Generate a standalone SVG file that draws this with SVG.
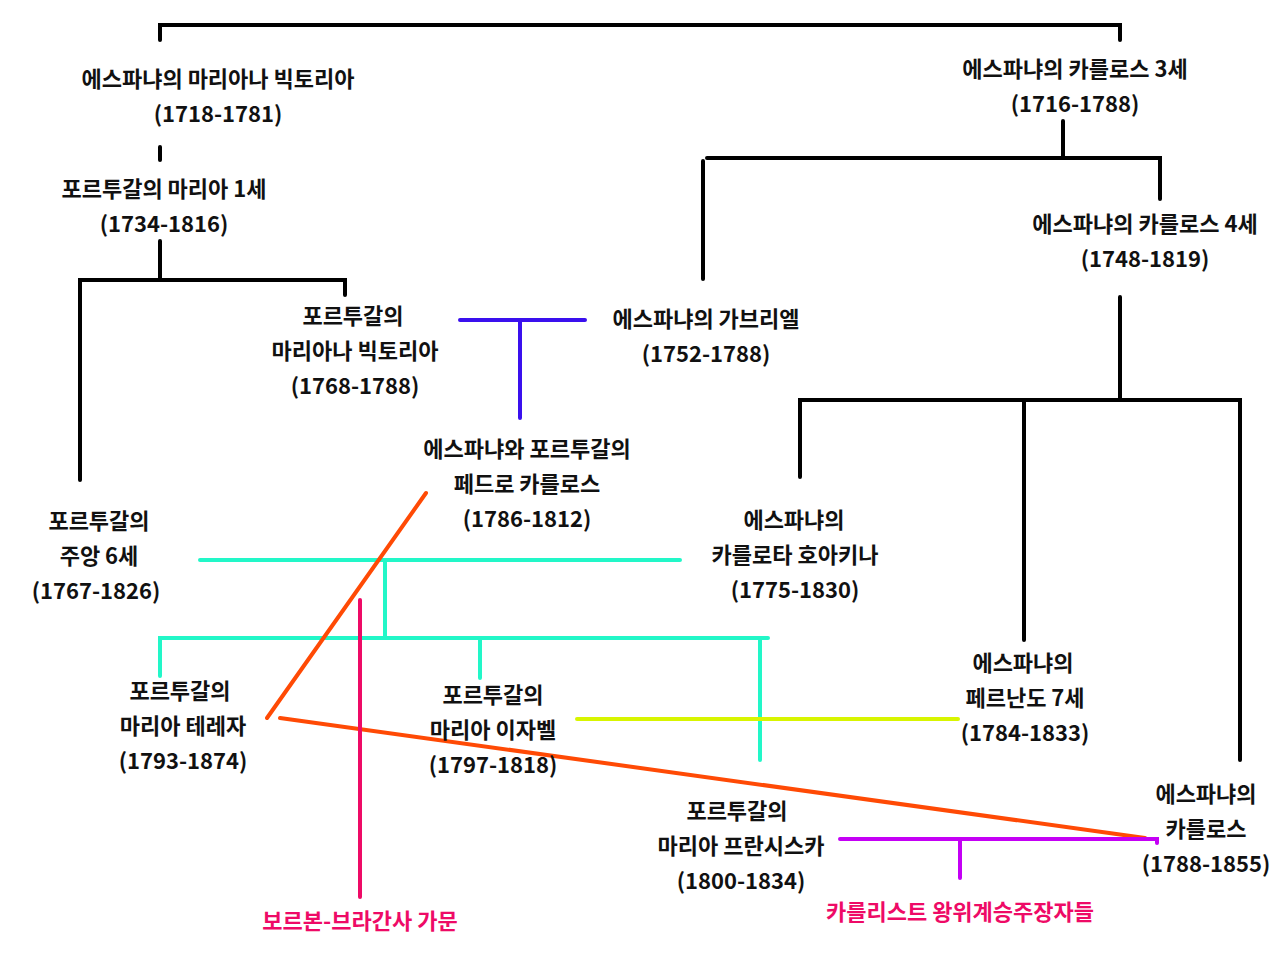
<svg xmlns="http://www.w3.org/2000/svg" width="1280" height="960" viewBox="0 0 1280 960">
<style>
text{font-family:"Noto Sans CJK KR","Noto Sans",sans-serif;font-weight:bold;font-size:22px;fill:#111;text-anchor:middle;dominant-baseline:central}
text.red{fill:#ee0a66}
.k{stroke:#000;stroke-width:4;fill:none;stroke-linecap:round}
.c{stroke:#22f7c8;stroke-width:4;fill:none;stroke-linecap:round}
.b{stroke:#3a10ee;stroke-width:4;fill:none;stroke-linecap:round}
.o{stroke:#ff4a05;stroke-width:4;fill:none;stroke-linecap:round}
.p{stroke:#ee0a66;stroke-width:4;fill:none;stroke-linecap:round}
.y{stroke:#d8f500;stroke-width:4;fill:none;stroke-linecap:round}
.v{stroke:#c400f5;stroke-width:4;fill:none;stroke-linecap:round}
</style>
<rect width="1280" height="960" fill="#fff"/>
<g id="connectors">
<path class="k" d="M160 40V25H1120V40"/>
<path class="k" d="M160 147V160"/>
<path class="k" d="M160 241V280M80 480V280H345V295"/>
<path class="k" d="M1063 121V158M707 158H1160V199M703 161V279"/>
<path class="k" d="M1120 297V400M800 477V400H1240V760M1024 400V640"/>
<path class="b" d="M460 320H585M520 320V418"/>
<path class="c" d="M200 560H680M385 560V638M160 676V638H768M480 638V678M760 638V760"/>
<path class="y" d="M577 719H958"/>
<path class="o" d="M426 493L267 718M280 718L1145 838"/>
<path class="p" d="M360 600V897"/>
<path class="v" d="M840 839H1157V843M960 839V878"/>
</g>
<g id="n_mariana_victoria_sp"><text x="218" y="77">에스파냐의 마리아나 빅토리아</text><text x="218" y="112">(1718-1781)</text></g>
<g id="n_carlos3"><text x="1075" y="67">에스파냐의 카를로스 3세</text><text x="1075" y="102">(1716-1788)</text></g>
<g id="n_maria1"><text x="164" y="187">포르투갈의 마리아 1세</text><text x="164" y="222">(1734-1816)</text></g>
<g id="n_carlos4"><text x="1145" y="222">에스파냐의 카를로스 4세</text><text x="1145" y="257">(1748-1819)</text></g>
<g id="n_mariana_victoria_pt"><text x="353" y="314">포르투갈의</text><text x="355" y="349">마리아나 빅토리아</text><text x="355" y="384">(1768-1788)</text></g>
<g id="n_gabriel"><text x="706" y="317">에스파냐의 가브리엘</text><text x="706" y="352">(1752-1788)</text></g>
<g id="n_pedro_carlos"><text x="527" y="447">에스파냐와 포르투갈의</text><text x="527" y="482">페드로 카를로스</text><text x="527" y="517">(1786-1812)</text></g>
<g id="n_joao6"><text x="99" y="519">포르투갈의</text><text x="99" y="554">주앙 6세</text><text x="96" y="589">(1767-1826)</text></g>
<g id="n_carlota"><text x="794" y="518">에스파냐의</text><text x="795" y="553">카를로타 호아키나</text><text x="795" y="588">(1775-1830)</text></g>
<g id="n_fernando7"><text x="1023" y="661">에스파냐의</text><text x="1025" y="696">페르난도 7세</text><text x="1025" y="731">(1784-1833)</text></g>
<g id="n_maria_teresa"><text x="180" y="689">포르투갈의</text><text x="183" y="724">마리아 테레자</text><text x="183" y="759">(1793-1874)</text></g>
<g id="n_maria_isabel"><text x="493" y="693">포르투갈의</text><text x="493" y="728">마리아 이자벨</text><text x="493" y="763">(1797-1818)</text></g>
<g id="n_carlos"><text x="1206" y="792">에스파냐의</text><text x="1206" y="827">카를로스</text><text x="1206" y="862">(1788-1855)</text></g>
<g id="n_maria_francisca"><text x="737" y="809">포르투갈의</text><text x="741" y="844">마리아 프란시스카</text><text x="741" y="879">(1800-1834)</text></g>
<g id="n_bourbon_braganza"><text class="red" x="360" y="919">보르본-브라간사 가문</text></g>
<g id="n_carlists"><text class="red" x="960" y="910">카를리스트 왕위계승주장자들</text></g>
</svg>
